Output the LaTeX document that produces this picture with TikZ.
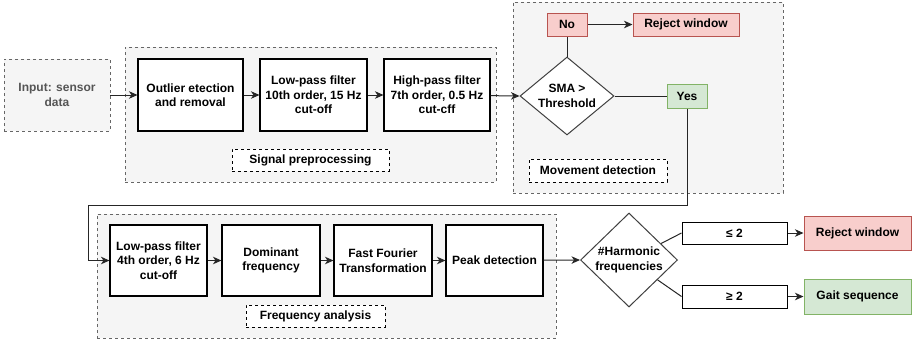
\documentclass[tikz,border=0pt]{standalone}
\usepackage{fontspec}
\setmainfont{Liberation Sans}
\usetikzlibrary{shapes.geometric,arrows.meta}
\definecolor{contfill}{HTML}{F5F5F5}
\definecolor{contdraw}{HTML}{666666}
\definecolor{inputtext}{HTML}{555555}
\definecolor{redfill}{HTML}{F8CECC}
\definecolor{reddraw}{HTML}{B85450}
\definecolor{greenfill}{HTML}{D5E8D4}
\definecolor{greendraw}{HTML}{82B366}
\tikzset{
  base/.style={font=\fontsize{12}{14.5}\selectfont\bfseries, align=center, inner sep=0pt},
  container/.style={base, draw=contdraw, fill=contfill, line width=0.8pt, dash pattern=on 3pt off 3pt},
  stepbox/.style={base, draw=black, fill=white, line width=1.1pt},
  labelbox/.style={base, draw=black, fill=white, line width=1pt, dash pattern=on 3pt off 3pt},
  redbox/.style={base, draw=reddraw, fill=redfill, line width=1pt},
  greenbox/.style={base, draw=greendraw, fill=greenfill, line width=1pt},
  decision/.style={base, shape=diamond, draw=black!75, fill=white, line width=1pt},
  conn/.style={draw=black!85, line width=1pt},
  arr/.style={conn, -{Stealth[length=8.5pt,width=7.5pt,inset=2.5pt]}},
}
\begin{document}
\begin{tikzpicture}[x=1pt,y=-1pt]
\useasboundingbox (0,0) rectangle (913,343);
% containers
\node[container, minimum width=371, minimum height=135] (sigcont) at (310.5,114.5) {};
\node[container, minimum width=270, minimum height=191] (movcont) at (648,97.5) {};
\node[container, minimum width=459, minimum height=124] (freqcont) at (326.5,276) {};
% input
\node[container, text=inputtext, minimum width=106, minimum height=72] (input) at (57,95) {Input: sensor\\data};
% signal preprocessing
\node[stepbox, minimum width=105, minimum height=72] (outlier) at (190.5,95) {Outlier etection\\and removal};
\node[stepbox, minimum width=107, minimum height=72] (lp10) at (313.5,95) {Low-pass filter\\10th order, 15 Hz\\cut-off};
\node[stepbox, minimum width=106, minimum height=72] (hp) at (437,95) {High-pass filter\\7th order, 0.5 Hz\\cut-cff};
\node[labelbox, minimum width=157, minimum height=22] (siglab) at (310.5,160) {Signal preprocessing};
% movement detection
\node[decision, minimum width=94, minimum height=78, aspect=1.2] (sma) at (567,96) {SMA \textgreater\\Threshold};
\node[redbox, minimum width=40, minimum height=23] (no) at (567,24.5) {No};
\node[redbox, minimum width=106, minimum height=23] (rej1) at (686,24.5) {Reject window};
\node[greenbox, minimum width=40, minimum height=24] (yes) at (687,96) {Yes};
\node[labelbox, minimum width=138, minimum height=23] (movlab) at (598,170.5) {Movement detection};
% frequency analysis
\node[stepbox, minimum width=97, minimum height=71] (lp4) at (158.5,260.5) {Low-pass filter\\4th order, 6 Hz\\cut-off};
\node[stepbox, minimum width=98, minimum height=71] (dom) at (271,260.5) {Dominant\\frequency};
\node[stepbox, minimum width=98, minimum height=71] (fft) at (383,260.5) {Fast Fourier\\Transformation};
\node[stepbox, minimum width=97, minimum height=71] (peak) at (494.5,260.5) {Peak detection};
\node[labelbox, minimum width=139, minimum height=22] (freqlab) at (315.5,316) {Frequency analysis};
% harmonic decision
\node[decision, minimum width=97, minimum height=94, aspect=1] (harm) at (629,260) {\#Harmonic\\frequencies};
\node[stepbox, line width=1pt, minimum width=105, minimum height=22] (le) at (734.5,233) {≤ 2};
\node[stepbox, line width=1pt, minimum width=105, minimum height=23] (ge) at (734.5,296.5) {≥ 2};
\node[redbox, minimum width=107, minimum height=34] (rej2) at (857.5,233) {Reject window};
\node[greenbox, minimum width=107, minimum height=35] (gait) at (857.5,296.5) {Gait sequence};
% connectors
\draw[arr] (input) -- (outlier);
\draw[arr] (outlier) -- (lp10);
\draw[arr] (lp10) -- (hp);
\draw[arr] (hp) -- (sma.west);
\draw[conn] (sma.north) -- (no.south);
\draw[arr] (no) -- (rej1);
\draw[conn] (sma.east) -- (yes.west);
\coordinate (c1) at (687,205);
\coordinate (c2) at (88,205);
\coordinate (c3) at (88,260.5);
\draw[arr] (yes.south) -- (c1) -- (c2) -- (c3) -- (lp4.west);
\draw[arr] (lp4) -- (dom);
\draw[arr] (dom) -- (fft);
\draw[arr] (fft) -- (peak);
\draw[arr] (peak) -- (harm.west);
\draw[conn] (harm) -- (le.west);
\draw[conn] (harm) -- (ge.west);
\draw[arr] (le) -- (rej2);
\draw[arr] (ge) -- (gait);
\end{tikzpicture}
\end{document}
